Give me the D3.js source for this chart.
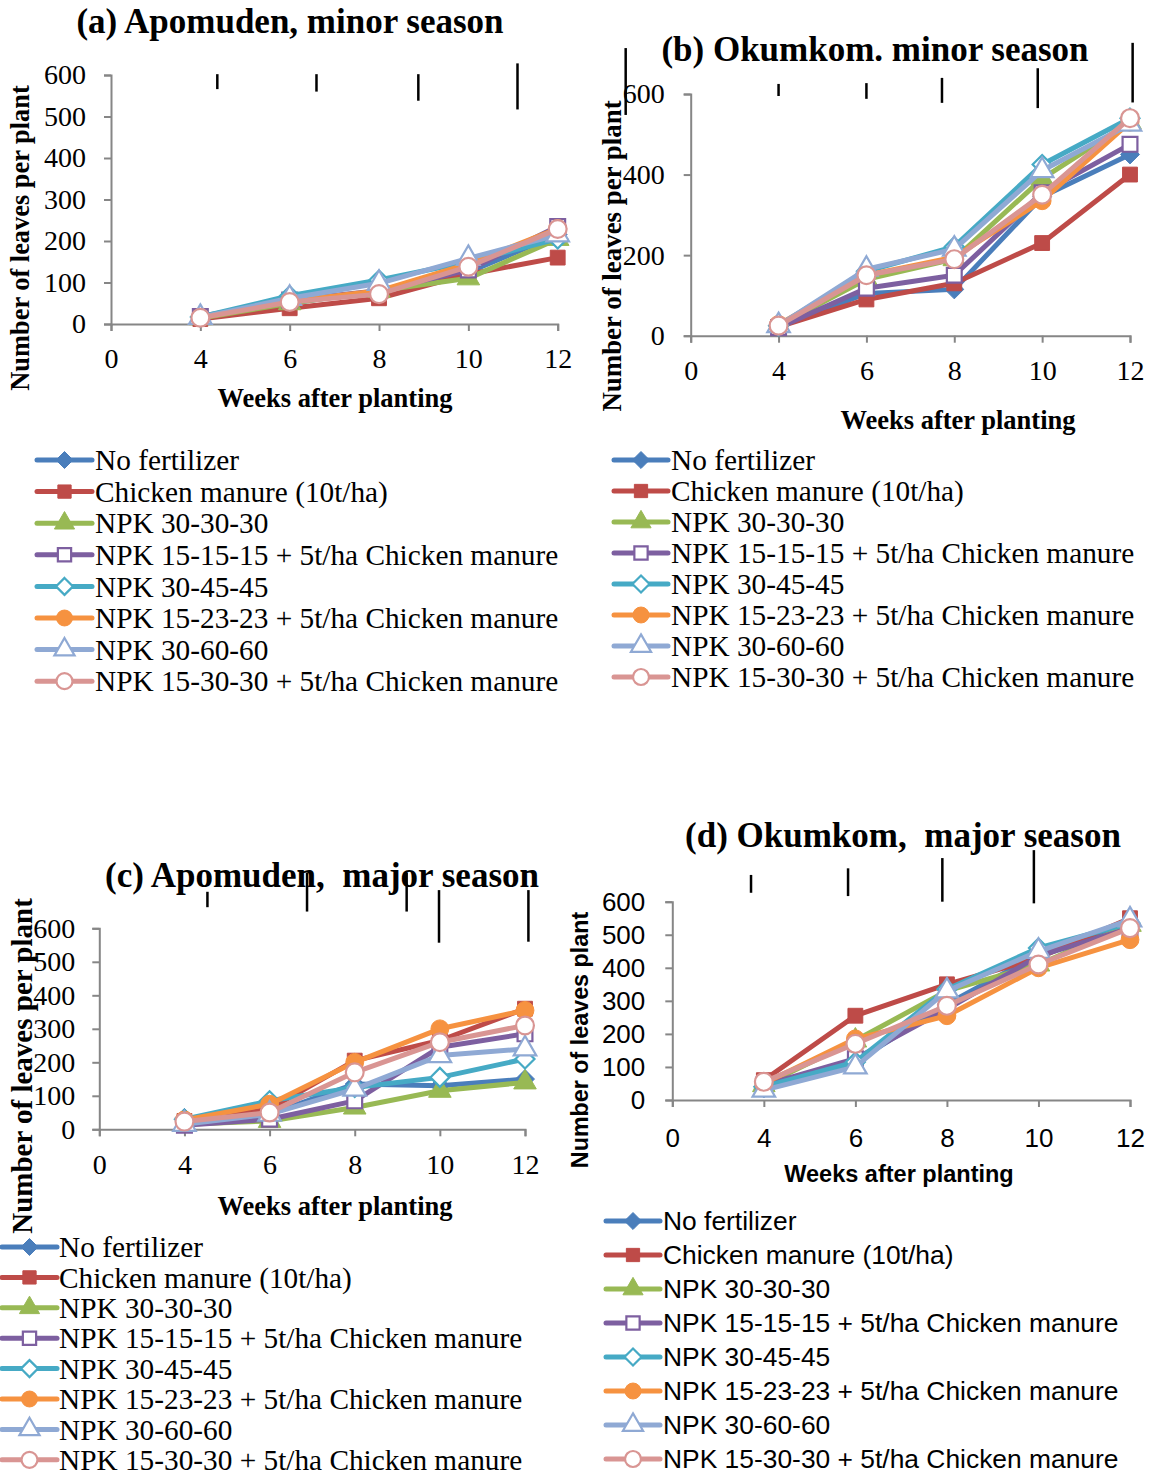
<!DOCTYPE html>
<html>
<head>
<meta charset="utf-8">
<script src="https://cdn.jsdelivr.net/npm/d3@7"></script>
<style>
  body { margin: 0; background: #fff; }
  svg { display: block; }
  text { white-space: pre; }
</style>
</head>
<body>
<svg id="chart" width="1155" height="1477"></svg>
<script>
// ---- data ----
const xTicks = ["0", "4", "6", "8", "10", "12"];
const weeks = ["4", "6", "8", "10", "12"];

const treatments = [
  "No fertilizer",
  "Chicken manure (10t/ha)",
  "NPK 30-30-30",
  "NPK 15-15-15 + 5t/ha Chicken manure",
  "NPK 30-45-45",
  "NPK 15-23-23 + 5t/ha Chicken manure",
  "NPK 30-60-60",
  "NPK 15-30-30 + 5t/ha Chicken manure"
];
const seriesColors = ["#4a7ebb", "#be4b48", "#98b954", "#7d5fa0", "#46aac5", "#f69240", "#8fa9d4", "#d99593"];
const seriesShapes = ["diamond", "square", "triangle", "square", "diamond", "circle", "triangle", "circle"];
const seriesHollow = [false, false, false, true, true, false, true, true];

// (a) Apomuden, minor season
const apomudenMinor = [
  [15, 50, 80, 125, 215],
  [12, 38, 62, 120, 160],
  [14, 50, 80, 110, 205],
  [18, 58, 80, 130, 235],
  [17, 68, 106, 150, 205],
  [15, 55, 80, 145, 230],
  [16, 62, 98, 158, 215],
  [15, 53, 72, 138, 229]
];
// (b) Okumkom, minor season
const okumkomMinor = [
  [22, 105, 115, 345, 450],
  [22, 90, 130, 230, 400],
  [25, 140, 190, 390, 530],
  [20, 118, 150, 355, 475],
  [25, 160, 221, 425, 540],
  [28, 150, 195, 335, 530],
  [25, 165, 215, 410, 525],
  [25, 150, 190, 350, 540]
];
// (c) Apomuden, major season
const apomudenMajor = [
  [34, 45, 135, 130, 150],
  [25, 60, 205, 265, 360],
  [15, 25, 65, 115, 140],
  [12, 30, 85, 245, 285],
  [30, 85, 125, 155, 210],
  [28, 75, 200, 300, 355],
  [15, 45, 120, 220, 240],
  [23, 50, 170, 260, 310]
];
// (d) Okumkom, major season
const okumkomMajor = [
  [35, 115, 290, 440, 525],
  [60, 255, 350, 430, 550],
  [45, 180, 330, 410, 530],
  [45, 125, 275, 435, 520],
  [40, 115, 335, 460, 535],
  [50, 185, 255, 400, 485],
  [30, 100, 330, 450, 545],
  [55, 170, 285, 410, 520]
];

// stray error bars above the plots: [category slot along x axis, low, high]
const apoMinorBars = [[1.19, 566, 602], [2.30, 560, 602], [3.44, 538, 602], [4.55, 517, 628]];
const okuMinorBars = [[-0.74, 548, 714], [1.0, 595, 625], [2.0, 588, 627], [2.86, 578, 640], [3.95, 565, 664], [5.03, 579, 727]];
const apoMajorBars = [[1.27, 663, 709], [2.44, 650, 765], [3.61, 650, 765], [3.99, 557, 714], [5.04, 560, 714]];
const okuMajorBars = [[0.86, 627, 681], [1.92, 617, 701], [2.95, 600, 732], [3.95, 595, 756]];

// ---- drawing ----
const svg = d3.select("#chart");
const SERIF = "'Liberation Serif', 'Times New Roman', serif";
const SANS = "'Liberation Sans', Arial, sans-serif";

const shapeOf = {
  diamond: d3.symbolDiamond2,
  square: d3.symbolSquare,
  triangle: d3.symbolTriangle,
  circle: d3.symbolCircle
};
const sizeOf = { diamond: 230, square: 220, triangle: 220, circle: 250 };

function marker(g, i, x, y, scale) {
  const shp = seriesShapes[i];
  g.append("path")
    .attr("d", d3.symbol().type(shapeOf[shp]).size(sizeOf[shp] * scale)())
    .attr("transform", `translate(${x},${y})`)
    .attr("fill", seriesHollow[i] ? "#fff" : seriesColors[i])
    .attr("stroke", seriesColors[i])
    .attr("stroke-width", seriesHollow[i] ? 2.2 : 1);
}

function drawPanel(cfg) {
  const g = svg.append("g");

  const x = d3.scalePoint().domain(xTicks).range([cfg.left, cfg.right]);
  const slot = k => cfg.left + k * x.step();
  const y = d3.scaleLinear().domain([0, 600]).range([cfg.bottom, cfg.top]);

  // title
  g.append("text")
    .attr("x", cfg.titleX).attr("y", cfg.titleY)
    .attr("text-anchor", "middle")
    .attr("font-family", SERIF).attr("font-weight", "bold").attr("font-size", 35)
    .text(cfg.title);

  // axes
  const xAxis = d3.axisBottom(x).tickSize(7).tickPadding(cfg.xPad);
  const yAxis = d3.axisLeft(y).tickValues(d3.range(0, 601, cfg.yStep))
    .tickSize(7).tickPadding(cfg.yPad);

  const xg = g.append("g").attr("transform", `translate(0,${cfg.bottom})`).call(xAxis);
  const yg = g.append("g").attr("transform", `translate(${cfg.left},0)`).call(yAxis);
  [xg, yg].forEach(a => {
    a.selectAll("path, line").attr("stroke", "#868686").attr("stroke-width", 2);
    a.selectAll("text").attr("font-family", cfg.font).attr("font-size", cfg.tickFont).attr("fill", "#000");
  });

  // axis titles
  g.append("text")
    .attr("x", cfg.xLabelX).attr("y", cfg.xLabelY)
    .attr("text-anchor", "middle")
    .attr("font-family", cfg.font).attr("font-weight", "bold").attr("font-size", cfg.xLabelFont)
    .text("Weeks after planting");
  g.append("text")
    .attr("transform", `translate(${cfg.yLabelX},${cfg.yLabelY}) rotate(-90)`)
    .attr("text-anchor", "middle")
    .attr("font-family", cfg.font).attr("font-weight", "bold").attr("font-size", cfg.yLabelFont)
    .text(cfg.yLabel);

  // stray bars
  g.selectAll(".bar").data(cfg.bars).enter().append("line")
    .attr("x1", d => slot(d[0])).attr("x2", d => slot(d[0]))
    .attr("y1", d => y(d[1])).attr("y2", d => y(d[2]))
    .attr("stroke", "#000").attr("stroke-width", 2.5);

  // series
  const line = d3.line().x((d, j) => x(weeks[j])).y(d => y(d));
  cfg.data.forEach((vals, i) => {
    g.append("path")
      .attr("d", line(vals))
      .attr("fill", "none")
      .attr("stroke", seriesColors[i])
      .attr("stroke-width", 5)
      .attr("stroke-linejoin", "round");
    vals.forEach((v, j) => marker(g, i, x(weeks[j]), y(v), 1));
  });

  // legend
  const lg = g.append("g");
  treatments.forEach((name, i) => {
    const cy = cfg.legY + i * cfg.legDy;
    lg.append("line")
      .attr("x1", cfg.legX0).attr("x2", cfg.legX1)
      .attr("y1", cy).attr("y2", cy)
      .attr("stroke", seriesColors[i]).attr("stroke-width", 5)
      .attr("stroke-linecap", "round");
    marker(lg, i, (cfg.legX0 + cfg.legX1) / 2, cy, 0.8);
    lg.append("text")
      .attr("x", cfg.legTextX).attr("y", cy).attr("dy", "0.35em")
      .attr("font-family", cfg.font).attr("font-size", cfg.legFont)
      .text(name);
  });
}

drawPanel({
  title: "(a) Apomuden, minor season", titleX: 290, titleY: 33,
  data: apomudenMinor, bars: apoMinorBars,
  left: 111, right: 557.7, top: 75, bottom: 324, yStep: 100,
  font: SERIF, tickFont: 28, xPad: 17, yPad: 18,
  xLabelX: 335, xLabelY: 407, xLabelFont: 26.5,
  yLabel: "Number of leaves per plant", yLabelX: 29, yLabelY: 238, yLabelFont: 26.4,
  legX0: 37, legX1: 92, legTextX: 95, legY: 460, legDy: 31.6, legFont: 29.3
});

drawPanel({
  title: "(b) Okumkom. minor season", titleX: 875, titleY: 61,
  data: okumkomMinor, bars: okuMinorBars,
  left: 690.7, right: 1130, top: 94, bottom: 335.7, yStep: 200,
  font: SERIF, tickFont: 28, xPad: 17, yPad: 19,
  xLabelX: 958, xLabelY: 429, xLabelFont: 26.5,
  yLabel: "Number of leaves per plant", yLabelX: 621, yLabelY: 256, yLabelFont: 26.9,
  legX0: 614, legX1: 668, legTextX: 671, legY: 460, legDy: 31, legFont: 29.3
});

drawPanel({
  title: "(c) Apomuden,  major season", titleX: 322, titleY: 887,
  data: apomudenMajor, bars: apoMajorBars,
  left: 99.3, right: 525, top: 928.3, bottom: 1129.3, yStep: 100,
  font: SERIF, tickFont: 28, xPad: 18, yPad: 17,
  xLabelX: 335, xLabelY: 1215, xLabelFont: 26.5,
  yLabel: "Number of leaves per plant", yLabelX: 32, yLabelY: 1066, yLabelFont: 29,
  legX0: 2, legX1: 57, legTextX: 59, legY: 1247, legDy: 30.4, legFont: 29.3
});

drawPanel({
  title: "(d) Okumkom,  major season", titleX: 903, titleY: 847,
  data: okumkomMajor, bars: okuMajorBars,
  left: 672.3, right: 1130, top: 901.7, bottom: 1100, yStep: 100,
  font: SANS, tickFont: 26, xPad: 22, yPad: 20,
  xLabelX: 899, xLabelY: 1182, xLabelFont: 23.5,
  yLabel: "Number of leaves plant", yLabelX: 588, yLabelY: 1040, yLabelFont: 23.3,
  legX0: 606, legX1: 660, legTextX: 663, legY: 1221, legDy: 34, legFont: 26.4
});
</script>
</body>
</html>
